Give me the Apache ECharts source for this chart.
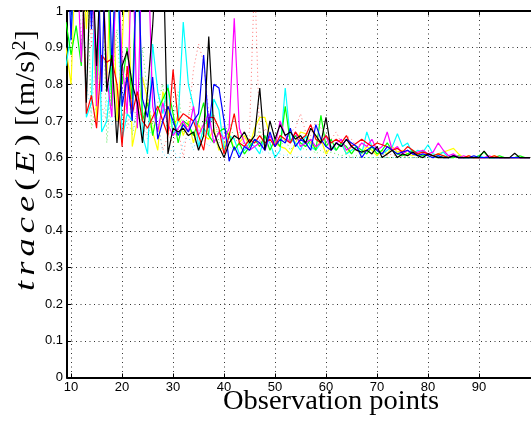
<!DOCTYPE html>
<html>
<head>
<meta charset="utf-8">
<script src="https://cdn.jsdelivr.net/npm/echarts@6/dist/echarts.min.js"></script>
<style>html,body{margin:0;padding:0;background:#fff;}#c{width:531px;height:421px;}</style>
</head>
<body>
<div id="c"></div>
<script>
// Observation points (x)
var obs = [9,10,11,12,13,14,15,16,17,18,19,20,21,22,23,24,25,26,27,28,29,30,31,32,33,34,35,36,37,38,39,40,41,42,43,44,45,46,47,48,49,50,51,52,53,54,55,56,57,58,59,60,61,62,63,64,65,66,67,68,69,70,71,72,73,74,75,76,77,78,79,80,81,82,83,84,85,86,87,88,89,90,91,92,93,94,95,96,97,98,99,100];
var xTicks = [10,20,30,40,50,60,70,80,90];

// trace(E) per run (values above 1 run off the top of the plot)
var blue = [1.3,0.92,1.3,1.3,1.3,0.95,1.3,0.78,1.3,0.85,1.2,0.74,0.82,0.70,1.2,0.76,0.71,0.82,0.65,0.70,0.74,0.70,0.66,0.69,0.67,0.70,0.72,0.88,0.68,0.80,0.79,0.70,0.59,0.63,0.60,0.63,0.62,0.65,0.64,0.62,0.67,0.63,0.65,0.64,0.68,0.63,0.65,0.64,0.62,0.69,0.65,0.63,0.62,0.64,0.63,0.65,0.64,0.63,0.60,0.62,0.63,0.62,0.61,0.63,0.62,0.61,0.615,0.62,0.61,0.605,0.61,0.605,0.60,0.605,0.60,0.60,0.605,0.60,0.60,0.60,0.605,0.60,0.60,0.60,0.60,0.60,0.60,0.60,0.60,0.60,0.60,0.60];
var green = [0.97,0.88,0.96,0.85,1.2,1.2,0.80,1.2,1.2,0.74,1.2,0.80,0.90,0.76,1.2,0.70,0.75,0.66,0.73,0.76,0.79,0.72,0.64,0.70,0.69,0.66,0.70,0.75,0.66,0.64,0.67,0.68,0.66,0.62,0.64,0.61,0.63,0.65,0.63,0.66,0.62,0.65,0.63,0.74,0.64,0.66,0.64,0.63,0.65,0.62,0.715,0.63,0.65,0.62,0.64,0.63,0.61,0.63,0.62,0.61,0.63,0.61,0.62,0.64,0.62,0.61,0.605,0.61,0.62,0.61,0.605,0.61,0.605,0.60,0.605,0.60,0.60,0.605,0.60,0.60,0.60,0.605,0.615,0.60,0.60,0.605,0.60,0.60,0.60,0.605,0.60,0.60];
var red = [1.2,1.2,1.2,1.2,0.72,0.77,0.68,0.88,0.86,0.87,0.80,0.63,0.85,0.72,0.78,0.70,0.68,0.71,0.74,0.70,0.66,0.84,0.70,0.72,0.71,0.70,0.66,0.62,0.71,0.71,0.68,0.61,0.66,0.72,0.64,0.63,0.65,0.64,0.66,0.64,0.65,0.63,0.66,0.65,0.64,0.67,0.65,0.66,0.69,0.65,0.64,0.66,0.64,0.65,0.64,0.66,0.63,0.64,0.65,0.64,0.63,0.64,0.635,0.63,0.62,0.625,0.615,0.63,0.62,0.61,0.615,0.61,0.605,0.61,0.605,0.60,0.605,0.60,0.60,0.605,0.60,0.60,0.60,0.60,0.605,0.60,0.60,0.60,0.60,0.60,0.60,0.60];
var cyan = [0.85,0.94,1.2,1.2,0.71,0.75,1.2,0.67,0.70,0.85,1.2,0.65,0.72,0.70,1.2,0.66,0.61,0.91,0.78,0.72,0.80,0.66,0.70,0.97,0.80,0.74,0.63,0.68,0.66,0.76,0.73,0.62,0.66,0.65,0.61,0.62,0.64,0.63,0.61,0.66,0.64,0.60,0.62,0.79,0.65,0.64,0.62,0.66,0.63,0.62,0.64,0.66,0.63,0.62,0.64,0.61,0.62,0.63,0.61,0.67,0.63,0.62,0.61,0.62,0.63,0.665,0.63,0.64,0.61,0.62,0.615,0.635,0.61,0.605,0.615,0.60,0.605,0.60,0.60,0.60,0.60,0.605,0.60,0.60,0.60,0.60,0.60,0.60,0.60,0.60,0.60,0.60];
var magenta = [1.2,1.2,1.2,0.86,1.2,1.2,0.74,1.2,0.82,0.71,1.2,0.86,0.72,1.2,0.68,1.2,1.2,0.74,0.67,0.75,0.69,0.66,0.68,0.70,0.67,0.74,0.66,0.69,0.72,0.64,0.67,0.65,0.68,0.98,0.68,0.64,0.62,0.63,0.64,0.62,0.66,0.63,0.70,0.66,0.64,0.67,0.63,0.64,0.65,0.63,0.64,0.66,0.62,0.64,0.65,0.62,0.63,0.62,0.64,0.63,0.65,0.62,0.63,0.67,0.62,0.63,0.61,0.62,0.61,0.615,0.62,0.61,0.615,0.64,0.62,0.605,0.61,0.60,0.605,0.60,0.60,0.60,0.60,0.605,0.60,0.60,0.60,0.60,0.60,0.60,0.60,0.60];
var yellow = [0.90,0.80,1.2,1.2,0.95,1.2,0.70,1.2,0.80,1.2,0.70,0.90,1.2,0.63,0.70,0.82,0.76,0.67,0.62,0.78,0.73,0.67,0.72,0.66,0.70,0.64,0.69,0.66,0.65,0.68,0.62,0.63,0.67,0.62,0.64,0.66,0.63,0.68,0.71,0.71,0.66,0.64,0.63,0.625,0.61,0.64,0.67,0.665,0.64,0.62,0.65,0.61,0.63,0.62,0.64,0.61,0.63,0.62,0.61,0.63,0.62,0.605,0.62,0.61,0.63,0.615,0.62,0.61,0.605,0.61,0.62,0.61,0.605,0.61,0.615,0.62,0.625,0.61,0.60,0.605,0.60,0.60,0.60,0.60,0.605,0.60,0.60,0.60,0.60,0.60,0.60,0.60];
var black = [1.2,1.2,1.2,1.2,0.75,1.2,0.85,1.2,0.78,0.88,0.64,0.85,0.89,0.80,0.75,0.64,0.78,0.96,1.2,1.2,0.61,0.68,0.67,0.68,0.66,0.67,0.62,0.66,0.93,0.67,0.63,0.60,0.64,0.66,0.65,0.67,0.64,0.66,0.79,0.62,0.70,0.65,0.69,0.66,0.67,0.65,0.66,0.64,0.68,0.66,0.64,0.71,0.62,0.64,0.63,0.65,0.63,0.62,0.615,0.62,0.61,0.63,0.60,0.61,0.62,0.60,0.61,0.605,0.615,0.605,0.60,0.61,0.605,0.60,0.60,0.60,0.605,0.60,0.60,0.60,0.60,0.60,0.618,0.60,0.60,0.60,0.60,0.60,0.612,0.60,0.60,0.60];
var redDot = [1.2,1.2,1.2,1.2,1.2,0.90,1.2,0.74,0.70,0.80,1.2,0.72,0.68,0.75,0.70,0.73,0.66,0.70,0.69,0.62,0.66,0.64,0.68,0.60,0.70,0.84,0.91,0.86,0.72,0.70,0.66,0.69,0.64,0.66,0.63,0.65,0.67,1.1,0.64,0.68,0.66,0.65,0.66,0.64,0.67,0.68,0.72,0.67,0.66,0.70,0.68,0.66,0.65,0.67,0.64,0.66,0.65,0.63,0.64,0.62,0.61,0.62,0.61,0.605,0.61,0.60,0.605,0.60,0.60,0.60,0.60,0.60,0.60,0.60,0.60,0.60,0.60,0.60,0.60,0.60,0.60,0.60,0.60,0.60,0.60,0.60,0.60,0.60,0.60,0.60,0.60,0.60];
var greenDot = [1.2,1.2,1.2,0.90,1.2,0.68,0.75,1.2,0.64,0.80,0.95,0.74,0.85,0.66,0.73,0.90,0.77,0.69,0.75,0.80,0.66,0.70,0.78,0.67,0.72,0.74,0.66,0.70,0.68,0.72,0.64,0.66,0.70,0.65,0.67,0.63,0.66,0.64,0.68,0.62,0.64,0.66,0.63,0.65,0.62,0.64,0.63,0.62,0.63,0.61,0.62,0.61,0.615,0.61,0.605,0.61,0.60,0.605,0.60,0.60,0.60,0.60,0.60,0.60,0.60,0.60,0.60,0.60,0.60,0.60,0.60,0.60,0.60,0.60,0.60,0.60,0.60,0.60,0.60,0.60,0.60,0.60,0.60,0.60,0.60,0.60,0.60,0.60,0.60,0.60,0.60,0.60];
var cyanDot = [1.2,1.2,1.2,1.2,0.80,0.72,0.90,0.70,0.76,0.69,0.73,0.78,0.70,0.67,0.74,0.69,0.65,0.68,0.71,0.61,0.60,0.63,0.59,0.64,0.66,0.62,0.68,0.65,0.63,0.66,0.62,0.64,0.63,0.62,0.63,0.61,0.62,0.63,0.61,0.62,0.61,0.615,0.61,0.605,0.61,0.60,0.605,0.60,0.60,0.60,0.60,0.60,0.60,0.60,0.60,0.60,0.60,0.60,0.60,0.60,0.60,0.60,0.60,0.60,0.60,0.60,0.60,0.60,0.60,0.60,0.60,0.60,0.60,0.60,0.60,0.60,0.60,0.60,0.60,0.60,0.60,0.60,0.60,0.60,0.60,0.60,0.60,0.60,0.60,0.60,0.60,0.60];

function pairs(v){ return obs.map(function(x,i){ return [x, v[i]]; }); }
function solid(name, color, v){
  return {name:name, type:'line', data:pairs(v), showSymbol:false, symbol:'none', clip:true, animation:false,
    lineStyle:{color:color, width:1.2}, itemStyle:{color:color}};
}
function dotted(name, color, v){
  return {name:name, type:'line', data:pairs(v), showSymbol:false, symbol:'none', clip:true, animation:false,
    lineStyle:{color:color, width:1, type:[1,3], opacity:0.8}, itemStyle:{color:color}};
}

// lightly stretched, letter-spaced rich text for the y-axis title (LaTeX-like look)
var mctx = document.createElement('canvas').getContext('2d');
var FONTS = {
  i:{css:'italic 28px "Liberation Serif"', fontStyle:'italic', fontSize:28, va:'bottom'},
  u:{css:'28px "Liberation Serif"', fontStyle:'normal', fontSize:28, va:'bottom'},
  s:{css:'18px "Liberation Serif"', fontStyle:'normal', fontSize:18, va:'top'}
};
function spaced(parts, target, scale){
  var total = 0;
  parts.forEach(function(p){ mctx.font = FONTS[p[0]].css; total += mctx.measureText(p[1]).width; });
  var pad = Math.max(0, (target / scale - total) / parts.length);
  var rich = {}, text = '';
  Object.keys(FONTS).forEach(function(k){
    var f = FONTS[k];
    rich[k] = {fontFamily:'Liberation Serif', fontStyle:f.fontStyle, fontSize:f.fontSize, fill:'#000',
      verticalAlign:f.va, lineHeight:30, padding:[0, pad, 0, 0]};
  });
  parts.forEach(function(p){ text += '{' + p[0] + '|' + p[1] + '}'; });
  return {text:text, rich:rich, scale:scale};
}
var titleA = spaced([['i','t'],['i','r'],['i','a'],['i','c'],['i','e'],['u','('],['i','E'],['u',')']], 162, 1.3);
var titleB = spaced([['u','['],['u','('],['u','m'],['u','/'],['u','s'],['u',')'],['s','2'],['u',']']], 96, 1.08);
mctx.font = '28px "Liberation Serif"';
var wX = mctx.measureText('Observation points').width;

var chart = echarts.init(document.getElementById('c'), null, {renderer:'canvas'});
var axisFont = {fontFamily:'Liberation Sans, Arial, sans-serif', fontSize:13, color:'#000'};
var grid = {type:[1,3.5], color:'#333', width:1};
chart.setOption({
  animation:false,
  backgroundColor:'#fff',
  grid:{left:67, right:0, top:11, bottom:43.5, containLabel:false},
  xAxis:[{
    type:'value', min:9.2, max:100.2, position:'bottom',
    axisLine:{show:true, lineStyle:{color:'#000', width:2}},
    axisTick:{show:true, inside:true, length:4, customValues:xTicks, lineStyle:{color:'#000'}},
    axisLabel:Object.assign({margin:3, customValues:xTicks}, axisFont),
    splitLine:{show:true, lineStyle:grid}
  },{
    type:'value', min:9.2, max:100.2, position:'top',
    axisLine:{show:true, lineStyle:{color:'#000', width:2}},
    axisTick:{show:true, inside:true, length:4, customValues:xTicks, lineStyle:{color:'#000'}},
    axisLabel:{show:false}, splitLine:{show:false}
  }],
  yAxis:{
    type:'value', min:0, max:1, interval:0.1,
    axisLine:{show:true, lineStyle:{color:'#000', width:2}},
    axisTick:{show:true, inside:true, length:4, lineStyle:{color:'#000'}},
    axisLabel:Object.assign({margin:4}, axisFont),
    splitLine:{show:true, lineStyle:grid}
  },
  series:[
    dotted('red dotted','#ff5050',redDot),
    dotted('green dotted','#30e030',greenDot),
    dotted('cyan dotted','#40e0ff',cyanDot),
    solid('yellow','#ffff00',yellow),
    solid('cyan','#00ffff',cyan),
    solid('green','#00ff00',green),
    solid('magenta','#ff00ff',magenta),
    solid('red','#ff0000',red),
    solid('blue','#0000ff',blue),
    solid('black','#000000',black)
  ],
  graphic:[
    {type:'text', x:223, y:388, z:100, scaleX:216 / wX,
      style:{text:'Observation points', font:'28px "Liberation Serif"', fill:'#000'}},
    {type:'text', x:11, y:291, rotation:Math.PI/2, scaleX:titleA.scale, z:100,
      style:{text:titleA.text, fill:'#000', rich:titleA.rich}},
    {type:'text', x:11, y:126, rotation:Math.PI/2, scaleX:titleB.scale, z:100,
      style:{text:titleB.text, fill:'#000', rich:titleB.rich}}
  ]
});
</script>
</body>
</html>
